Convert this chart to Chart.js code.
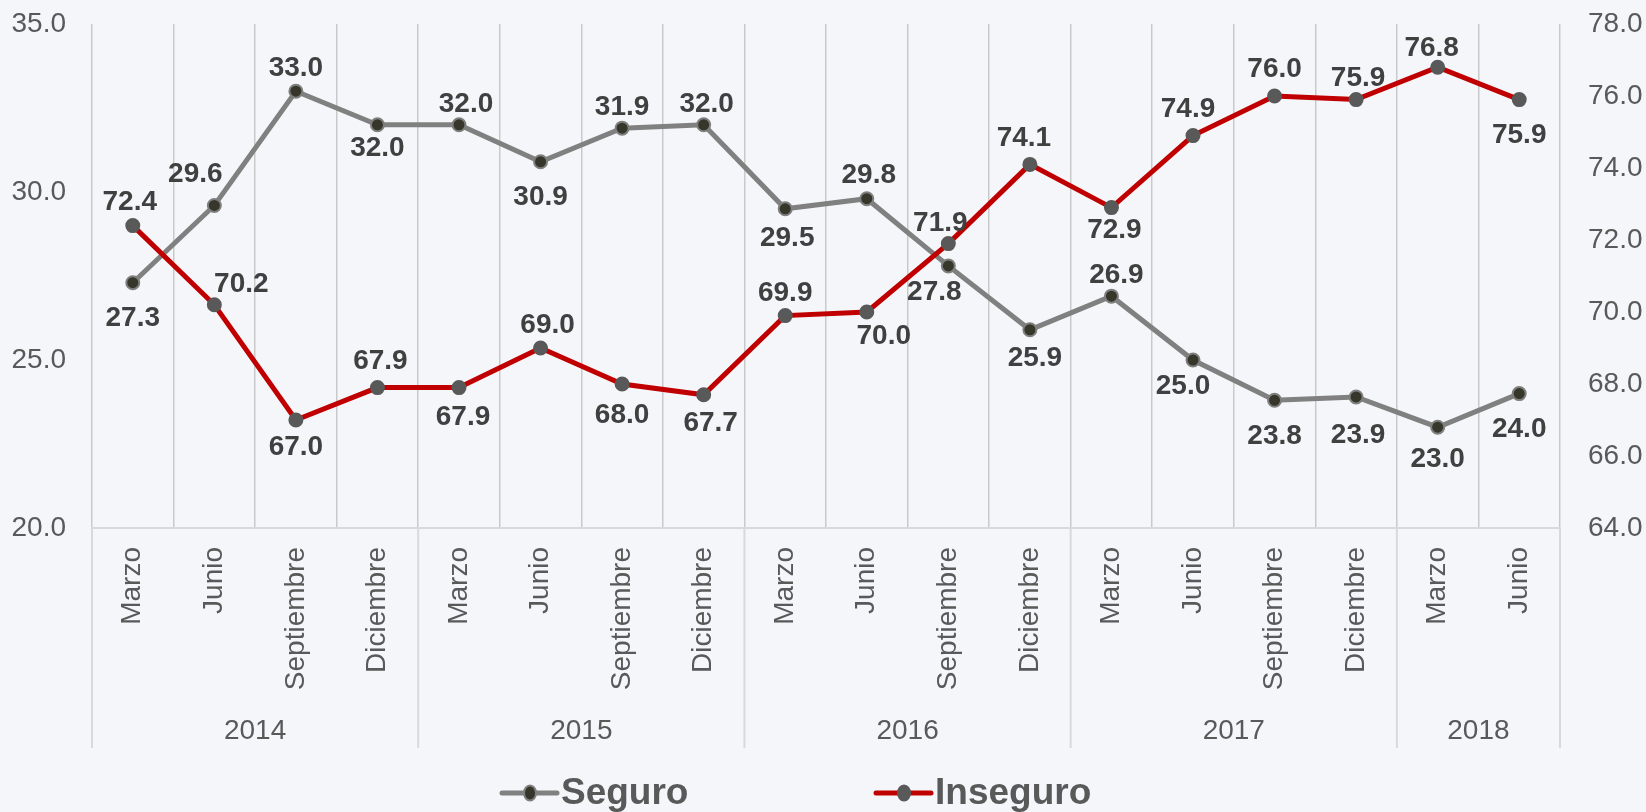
<!DOCTYPE html>
<html><head><meta charset="utf-8">
<script src="https://cdn.jsdelivr.net/npm/chart.js@4.4.0/dist/chart.umd.min.js"></script>
<style>html,body{margin:0;padding:0;background:#F4F6FA;} #wrap{width:1646px;height:812px;position:relative;}</style>
</head><body><div id="wrap"><canvas id="c"></canvas></div>
<script>
// ---- data ----
const months = ['Marzo','Junio','Septiembre','Diciembre','Marzo','Junio','Septiembre','Diciembre','Marzo','Junio','Septiembre','Diciembre','Marzo','Junio','Septiembre','Diciembre','Marzo','Junio'];
const years = ['2014','2015','2016','2017','2018'];
const yearSpans = [4,4,4,4,2];
const seguro = [27.3,29.6,33.0,32.0,32.0,30.9,31.9,32.0,29.5,29.8,27.8,25.9,26.9,25.0,23.8,23.9,23.0,24.0];
const inseguro = [72.4,70.2,67.0,67.9,67.9,69.0,68.0,67.7,69.9,70.0,71.9,74.1,72.9,74.9,76.0,75.9,76.8,75.9];
const seriesNames = ['Seguro','Inseguro'];
const leftAxis = {min:20, max:35, step:5};
const rightAxis = {min:64, max:78, step:2};
// value-label offsets from their point (pixels)
const seguroLabelDy = [36,-31,-23,23,-21,36,-21,-21,29,-23,26,29,-21,26,36,38,32,36];
const seguroLabelDx = [0,-19,0,0,7,0,0,3,2,2,-14,5,5,-10,0,2,0,0];
const inseguroLabelDy = [-23,-21,27,-26,30,-23,31,28,-22,24,-20,-26,23,-26,-27,-21,-19,36];
const inseguroLabelDx = [-3,27,0,3,4,7,0,7,0,17,-8,-6,3,-5,0,2,-6,0];

const FONT = "'Liberation Sans', Arial, sans-serif";
const TXT = '#595959';

const yearPlugin = {
  id:'years',
  afterDraw(chart){
    const xs = chart.scales.x, ctx = chart.ctx, ca = chart.chartArea;
    const half = (xs.getPixelForValue(1) - xs.getPixelForValue(0)) / 2;
    let idx = 0;
    ctx.save();
    ctx.strokeStyle = '#D9D9D9'; ctx.lineWidth = 2;
    ctx.fillStyle = TXT; ctx.font = '28px ' + FONT; ctx.textAlign='center'; ctx.textBaseline='middle';
    const bottom = xs.bottom;
    years.forEach((y,k)=>{
      const x0 = xs.getPixelForValue(idx) - half;
      const x1 = xs.getPixelForValue(idx + yearSpans[k] - 1) + half;
      ctx.beginPath(); ctx.moveTo(x0, ca.bottom); ctx.lineTo(x0, bottom); ctx.stroke();
      if (k === years.length-1){ ctx.beginPath(); ctx.moveTo(x1, ca.bottom); ctx.lineTo(x1, bottom); ctx.stroke(); }
      ctx.fillText(y, (x0+x1)/2, bottom - 17);
      idx += yearSpans[k];
    });
    ctx.restore();
  }
};

const labelPlugin = {
  id:'vlabels',
  afterDatasetsDraw(chart){
    const ctx = chart.ctx;
    const dys = [seguroLabelDy, inseguroLabelDy];
    const dxs = [seguroLabelDx, inseguroLabelDx];
    ctx.save();
    ctx.font = 'bold 28px ' + FONT; ctx.fillStyle = '#404040';
    ctx.textAlign='center'; ctx.textBaseline='middle';
    chart.data.datasets.forEach((ds,di)=>{
      const meta = chart.getDatasetMeta(di);
      meta.data.forEach((pt,i)=>{
        const v = ds.data[i];
        ctx.fillText(v.toFixed(1), pt.x + dxs[di][i], pt.y + dys[di][i]);
      });
    });
    ctx.restore();
  }
};

const legendPlugin = {
  id:'customLegend',
  afterDraw(chart){
    const ctx = chart.ctx;
    const cy = 793;
    const items = [
      {x:502, name:seriesNames[0], line:'#808080', fill:'#36362A', border:'#7F7F7F'},
      {x:876, name:seriesNames[1], line:'#C00000', fill:'#595959', border:'#595959'}
    ];
    ctx.save();
    items.forEach(it=>{
      ctx.strokeStyle = it.line; ctx.lineWidth = 5; ctx.lineCap='round';
      ctx.beginPath(); ctx.moveTo(it.x, cy); ctx.lineTo(it.x+55, cy); ctx.stroke();
      ctx.beginPath(); ctx.ellipse(it.x+28, cy, 6, 7.5, 0, 0, Math.PI*2);
      ctx.fillStyle = it.fill; ctx.fill(); ctx.lineWidth=2; ctx.strokeStyle = it.border; ctx.stroke();
      ctx.font = 'bold 37px ' + FONT; ctx.fillStyle = TXT; ctx.textAlign='left'; ctx.textBaseline='middle';
      ctx.fillText(it.name, it.x+59, cy+1);
    });
    ctx.restore();
  }
};

new Chart(document.getElementById('c'), {
  type:'line',
  data:{
    labels: months,
    datasets:[
      {label:seriesNames[0], data:seguro, yAxisID:'y', order:1,
       borderColor:'#808080', borderWidth:5, pointRadius:6.5, pointBorderWidth:2,
       pointBackgroundColor:'#36362A', pointBorderColor:'#7F7F7F', tension:0},
      {label:seriesNames[1], data:inseguro, yAxisID:'y1', order:0,
       borderColor:'#C00000', borderWidth:5, pointRadius:6.5, pointBorderWidth:2,
       pointBackgroundColor:'#595959', pointBorderColor:'#595959', tension:0}
    ]
  },
  options:{
    responsive:true, maintainAspectRatio:false, animation:false,
    layout:{padding:{top:24,bottom:64,left:0,right:0}},
    plugins:{legend:{display:false}, tooltip:{enabled:false}},
    scales:{
      x:{
        offset:true,
        grid:{offset:true, color:'#C9C9C9', lineWidth:1.5, drawTicks:false},
        border:{display:true, color:'#D9D9D9', width:2},
        ticks:{minRotation:90, maxRotation:90, autoSkip:false, padding:19, color:TXT, font:{family:FONT, size:28}},
        afterFit(s){ s.height = 220; s.paddingLeft = 0; s.paddingRight = 0; }
      },
      y:{
        position:'left', min:leftAxis.min, max:leftAxis.max,
        grid:{display:false}, border:{display:false},
        ticks:{stepSize:leftAxis.step, padding:18, color:TXT, font:{family:FONT, size:28}, callback:v=>Number(v).toFixed(1)},
        afterFit(s){ s.width = 92; s.paddingTop = 0; s.paddingBottom = 0; }
      },
      y1:{
        position:'right', min:rightAxis.min, max:rightAxis.max,
        grid:{display:false}, border:{display:false},
        ticks:{stepSize:rightAxis.step, padding:20, color:TXT, font:{family:FONT, size:28}, callback:v=>Number(v).toFixed(1)},
        afterFit(s){ s.width = 86; s.paddingTop = 0; s.paddingBottom = 0; }
      }
    }
  },
  plugins:[yearPlugin, labelPlugin, legendPlugin]
});
</script></body></html>
